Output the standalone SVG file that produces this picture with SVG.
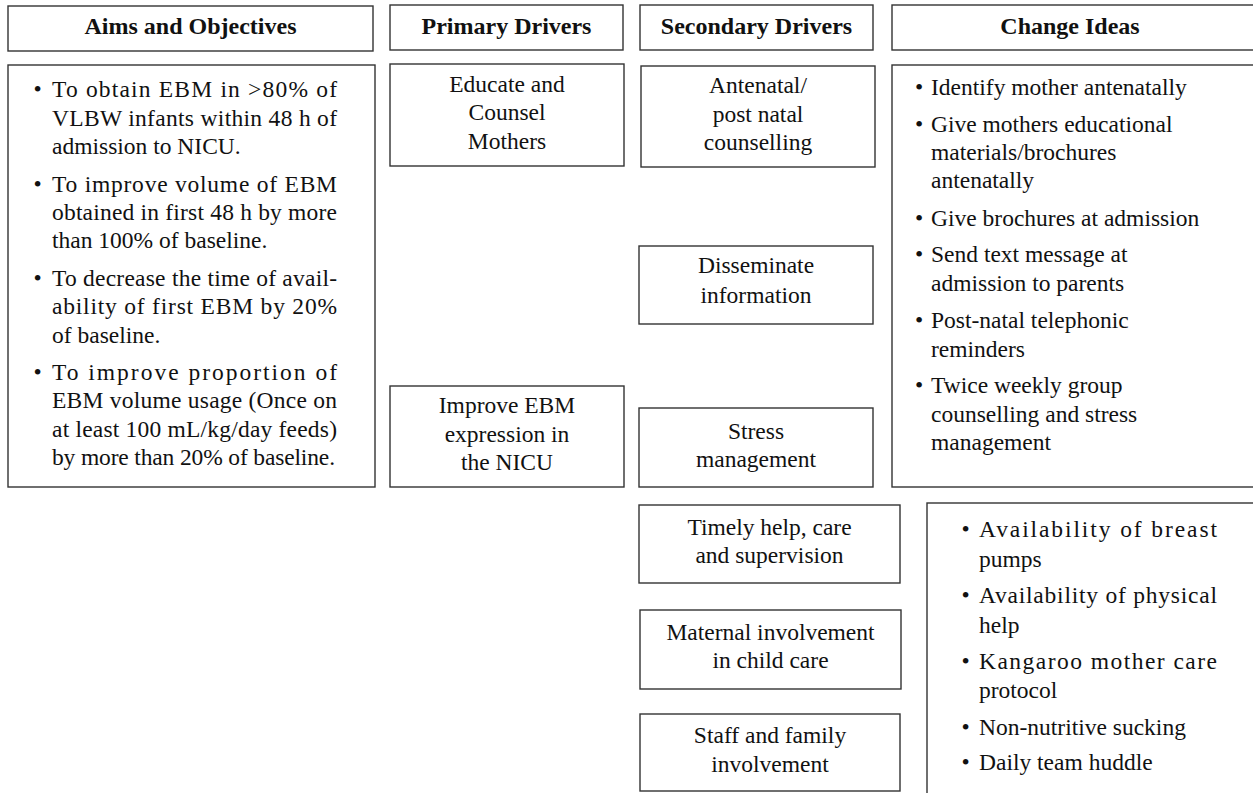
<svg xmlns="http://www.w3.org/2000/svg" width="1253" height="793" viewBox="0 0 1253 793" font-family="'Liberation Serif', 'Times New Roman', Times, 'DejaVu Serif', serif">
<style>
rect.box{fill:#fff;stroke:#333;stroke-width:1.4}
text{font-family:'Liberation Serif','Times New Roman',Times,'DejaVu Serif',serif;font-size:23.5px;fill:#111}
text.h{font-weight:bold;text-anchor:middle;font-size:24px}
text.c{text-anchor:middle}
</style>
<rect width="1253" height="793" fill="#fff"/>
<g id="hdr-aims"><rect class="box" x="8" y="6" width="365" height="45"/><text class="h" x="190.5" y="34">Aims and Objectives</text></g>
<g id="hdr-primary"><rect class="box" x="390" y="5" width="233" height="45"/><text class="h" x="506.5" y="33.5">Primary Drivers</text></g>
<g id="hdr-secondary"><rect class="box" x="640" y="5" width="233" height="45"/><text class="h" x="756.5" y="33.5">Secondary Drivers</text></g>
<g id="hdr-change"><rect class="box" x="892" y="5" width="380" height="45"/><text class="h" x="1070" y="33.5">Change Ideas</text></g>

<g id="aims">
<rect class="box" x="8" y="65" width="367" height="422"/>
<text x="33.5" y="96.7">•</text>
<text x="52" y="96.7" textLength="285" lengthAdjust="spacing">To obtain EBM in &gt;80% of</text>
<text x="52" y="125.5" textLength="285" lengthAdjust="spacing">VLBW infants within 48 h of</text>
<text x="52" y="154.3">admission to NICU.</text>
<text x="33.5" y="191.7">•</text>
<text x="52" y="191.7" textLength="285" lengthAdjust="spacing">To improve volume of EBM</text>
<text x="52" y="220" textLength="285" lengthAdjust="spacing">obtained in first 48 h by more</text>
<text x="52" y="248.3">than 100% of baseline.</text>
<text x="33.5" y="286">•</text>
<text x="52" y="286" textLength="285" lengthAdjust="spacing">To decrease the time of avail-</text>
<text x="52" y="314.3" textLength="285" lengthAdjust="spacing">ability of first EBM by 20%</text>
<text x="52" y="342.7">of baseline.</text>
<text x="33.5" y="380">•</text>
<text x="52" y="380" textLength="285" lengthAdjust="spacing">To improve proportion of</text>
<text x="52" y="408.3" textLength="285" lengthAdjust="spacing">EBM volume usage (Once on</text>
<text x="52" y="436.7" textLength="285" lengthAdjust="spacing">at least 100 mL/kg/day feeds)</text>
<text x="52" y="465" textLength="283" lengthAdjust="spacing">by more than 20% of baseline.</text>
</g>

<g id="educate"><rect class="box" x="390" y="64" width="234" height="102"/>
<text class="c" x="507" y="91.7">Educate and</text><text class="c" x="507" y="120">Counsel</text><text class="c" x="507" y="149.3">Mothers</text></g>
<g id="improve"><rect class="box" x="390" y="386" width="234" height="101"/>
<text class="c" x="507" y="413.3">Improve EBM</text><text class="c" x="507" y="441.7">expression in</text><text class="c" x="507" y="470">the NICU</text></g>

<g id="antenatal"><rect class="box" x="641" y="66" width="234" height="101"/>
<text class="c" x="758" y="92.7">Antenatal/</text><text class="c" x="758" y="121.7">post natal</text><text class="c" x="758" y="150">counselling</text></g>
<g id="disseminate"><rect class="box" x="639" y="246" width="234" height="78"/>
<text class="c" x="756" y="273.3">Disseminate</text><text class="c" x="756" y="303.3">information</text></g>
<g id="stress"><rect class="box" x="639" y="408" width="234" height="79"/>
<text class="c" x="756" y="439">Stress</text><text class="c" x="756" y="466.7">management</text></g>
<g id="timely"><rect class="box" x="639" y="505" width="261" height="78"/>
<text class="c" x="769.5" y="535">Timely help, care</text><text class="c" x="769.5" y="562.7">and supervision</text></g>
<g id="maternal"><rect class="box" x="640" y="610" width="261" height="79"/>
<text class="c" x="770.5" y="640">Maternal involvement</text><text class="c" x="770.5" y="668.3">in child care</text></g>
<g id="staff"><rect class="box" x="640" y="714" width="260" height="77"/>
<text class="c" x="770" y="743.3">Staff and family</text><text class="c" x="770" y="771.7">involvement</text></g>

<g id="change-ideas-1">
<rect class="box" x="892" y="65" width="380" height="422"/>
<text x="915" y="95">•</text><text x="931" y="95">Identify mother antenatally</text>
<text x="915" y="131.7">•</text><text x="931" y="131.7">Give mothers educational</text>
<text x="931" y="160">materials/brochures</text>
<text x="931" y="188.3">antenatally</text>
<text x="915" y="225.7">•</text><text x="931" y="225.7">Give brochures at admission</text>
<text x="915" y="262.3">•</text><text x="931" y="262.3">Send text message at</text>
<text x="931" y="290.7">admission to parents</text>
<text x="915" y="328.3">•</text><text x="931" y="328.3">Post-natal telephonic</text>
<text x="931" y="356.7">reminders</text>
<text x="915" y="393.3">•</text><text x="931" y="393.3">Twice weekly group</text>
<text x="931" y="421.7">counselling and stress</text>
<text x="931" y="450">management</text>
</g>

<g id="change-ideas-2">
<rect class="box" x="927" y="503" width="345" height="310"/>
<text x="961.5" y="536.7">•</text><text x="979" y="536.7" textLength="238" lengthAdjust="spacing">Availability of breast</text>
<text x="979" y="566.7">pumps</text>
<text x="961.5" y="603.3">•</text><text x="979" y="603.3" textLength="238" lengthAdjust="spacing">Availability of physical</text>
<text x="979" y="632.7">help</text>
<text x="961.5" y="669">•</text><text x="979" y="669" textLength="238" lengthAdjust="spacing">Kangaroo mother care</text>
<text x="979" y="698">protocol</text>
<text x="961.5" y="735">•</text><text x="979" y="735">Non-nutritive sucking</text>
<text x="961.5" y="770">•</text><text x="979" y="770">Daily team huddle</text>
</g>

<g id="connectors"></g>
</svg>
